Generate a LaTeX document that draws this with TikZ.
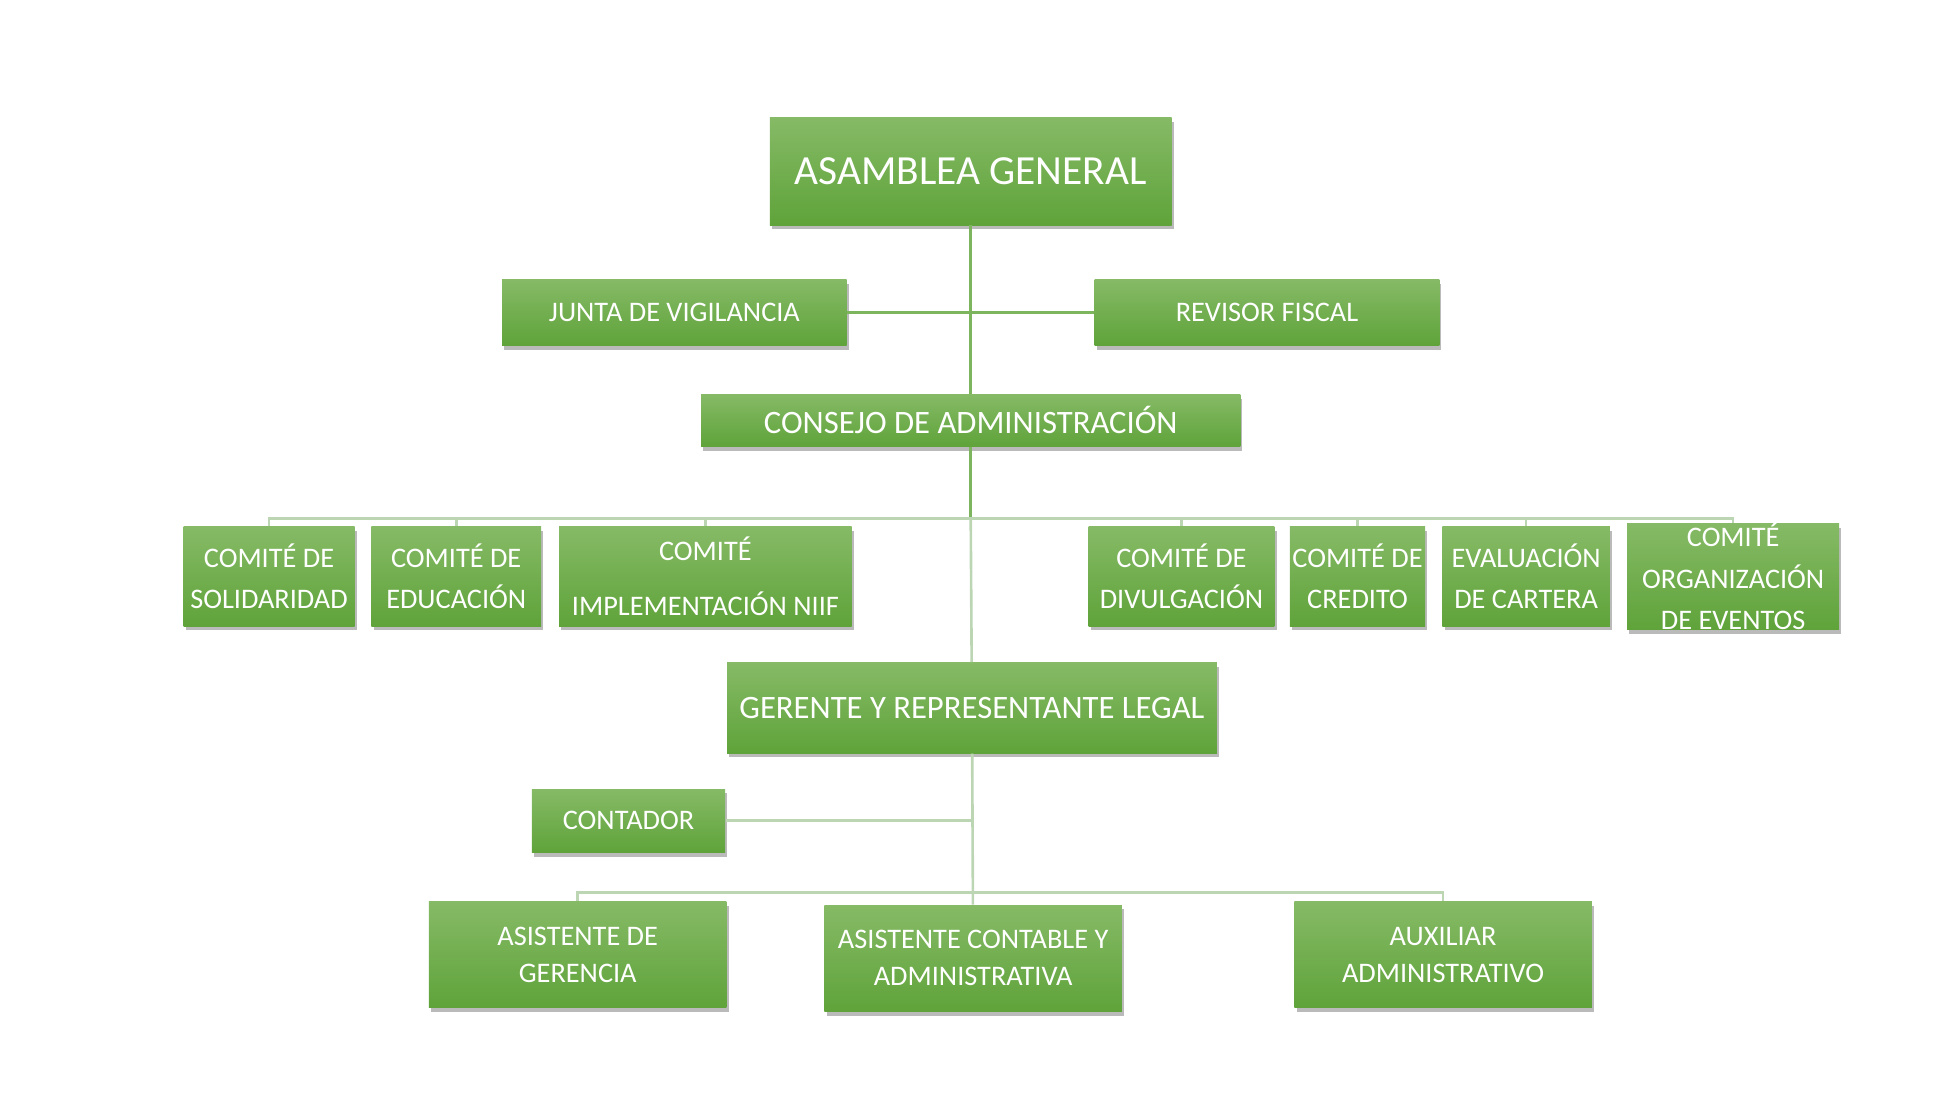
\documentclass[tikz,border=0pt]{standalone}
\usepackage{fontspec}
\setmainfont{Carlito}
\usetikzlibrary{shadows}
\definecolor{boxtop}{HTML}{86BA66}
\definecolor{boxbot}{HTML}{5FA33A}
\definecolor{linkdark}{HTML}{7DB45E}
\definecolor{linklight}{HTML}{BCD6B4}
\begin{document}
\begin{tikzpicture}[x=0.02cm,y=-0.02cm,
box/.style = {top color = boxtop, bottom color = boxbot, draw = none, text = white, align = center, font = \fontsize{13}{19}\selectfont, inner sep = 0pt, drop shadow = {shadow xshift = 1pt, shadow yshift = -2pt, fill = black!45, opacity = 0.6}},
upper/.style = {draw = linkdark, line width = 1.2pt},
lower/.style = {draw = linklight, line width = 1.2pt},
]
\useasboundingbox (0,0) rectangle (1560,885);
\node[box, minimum width = 6.48cm, minimum height = 1.74cm, font = \fontsize{19}{23}\selectfont] (asamblea) at (783,138) {ASAMBLEA GENERAL};
\node[box, minimum width = 5.56cm, minimum height = 1.06cm] (junta) at (544,252) {JUNTA DE VIGILANCIA};
\node[box, minimum width = 5.56cm, minimum height = 1.06cm] (revisor) at (1022,252) {REVISOR FISCAL};
\node[box, minimum width = 8.7cm, minimum height = 0.84cm, font = \fontsize{15}{19}\selectfont] (consejo) at (783,339) {CONSEJO DE ADMINISTRACIÓN};
\node[box, minimum width = 2.76cm, minimum height = 1.6cm] (solidaridad) at (217,465) {COMITÉ DE\\SOLIDARIDAD};
\node[box, minimum width = 2.74cm, minimum height = 1.6cm] (educacion) at (368,465) {COMITÉ DE\\EDUCACIÓN};
\node[box, minimum width = 4.72cm, minimum height = 1.6cm, font = \fontsize{13}{25}\selectfont] (niif) at (569,465) {COMITÉ\\IMPLEMENTACIÓN NIIF};
\node[box, minimum width = 3.0cm, minimum height = 1.6cm] (divulgacion) at (953,465) {COMITÉ DE\\DIVULGACIÓN};
\node[box, minimum width = 2.18cm, minimum height = 1.6cm] (credito) at (1095,465) {COMITÉ DE\\CREDITO};
\node[box, minimum width = 2.7cm, minimum height = 1.6cm] (cartera) at (1231,465) {EVALUACIÓN\\DE CARTERA};
\node[box, minimum width = 3.42cm, minimum height = 1.6cm] (eventos) at (1398,465) {COMITÉ\\ORGANIZACIÓN\\DE EVENTOS};
\node[box, minimum width = 7.9cm, minimum height = 1.46cm, font = \fontsize{15}{19}\selectfont] (gerente) at (784,571) {GERENTE Y REPRESENTANTE LEGAL};
\node[box, minimum width = 3.12cm, minimum height = 1.02cm] (contador) at (507,662) {CONTADOR};
\node[box, minimum width = 4.8cm, minimum height = 1.72cm, font = \fontsize{13}{17}\selectfont] (asistgerencia) at (466,770) {ASISTENTE DE\\GERENCIA};
\node[box, minimum width = 4.8cm, minimum height = 1.72cm, font = \fontsize{13}{17}\selectfont] (asistcontable) at (785,773) {ASISTENTE CONTABLE Y\\ADMINISTRATIVA};
\node[box, minimum width = 4.8cm, minimum height = 1.72cm, font = \fontsize{13}{17}\selectfont] (auxiliar) at (1164,770) {AUXILIAR\\ADMINISTRATIVO};

% upper links
\begin{scope}[on background layer/.style={}]
\coordinate (busA) at (783,418);
\coordinate (busB) at (784,720);
\draw[upper] (asamblea) -- (consejo);
\draw[upper] (junta) -- (revisor);
\draw[upper] (consejo) -- (busA);
\foreach \c in {solidaridad,educacion,niif,divulgacion,credito,cartera,eventos}
  \draw[lower] (\c.north) -- (\c.north |- busA) -- (busA);
\draw[lower] (busA) -- (gerente);
\draw[lower] (gerente) -- (asistcontable);
\draw[lower] (contador) -- (contador -| busB);
\foreach \c in {asistgerencia,auxiliar}
  \draw[lower] (\c.north) -- (\c.north |- busB) -- (busB);
\end{scope}
\end{tikzpicture}
\end{document}
